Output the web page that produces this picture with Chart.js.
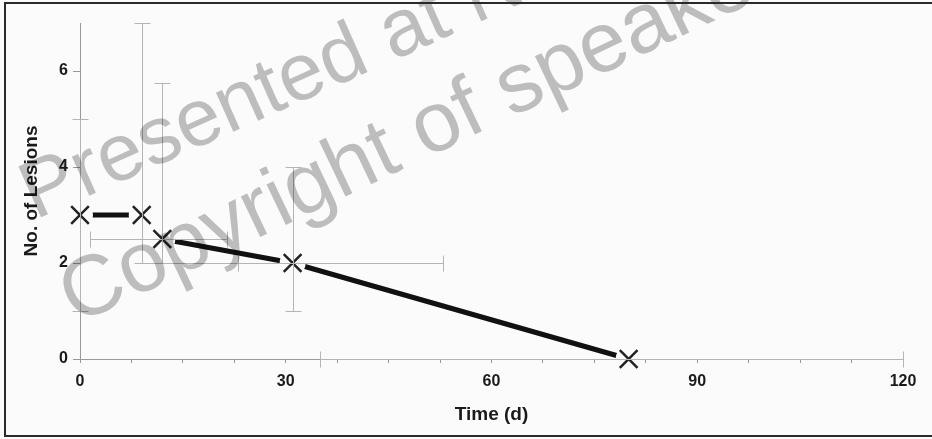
<!DOCTYPE html>
<html>
<head>
<meta charset="utf-8">
<script src="https://cdn.jsdelivr.net/npm/chart.js@4"></script>
<style>
  html, body { margin: 0; padding: 0; background: #fbfbfb; }
  #wrap { width: 932px; height: 439px; }
</style>
</head>
<body>
<div id="wrap"><canvas id="lesions" width="932" height="439"></canvas></div>
<script>
// lesion count over time, with spread on both axes
const days = [0, 9, 12, 31, 80];
const lesions = [3, 3, 2.5, 2, 0];
const lesionLow = [1, 2, 2, 1, null];
const lesionHigh = [5, 7, 5.75, 4, null];
const dayLow = [null, null, 1.5, 23, 35];
const dayHigh = [null, null, 21.5, 53, 120];
// short bracket at 2 lesions joining the two early bars
const bracketDays = [9, 23];
const bracketLevel = 2;

const xTicks = [0, 30, 60, 90, 120];
const xMinorStep = 7.5;
const yTicks = [0, 2, 4, 6];

const earlyIdx = [0, 1];
const lateIdx = [2, 3, 4];
const pts = (idx) => idx.map((i) => ({ x: days[i], y: lesions[i] }));

const ink = "#1a1a1a";
const bg = "#fbfbfb";
const barColor = "#b4b4b4";
const face = "'Liberation Sans', Arial, sans-serif";

const errorBars = {
  id: "errorBars",
  afterDatasetsDraw(chart) {
    const { ctx, scales } = chart;
    const x = scales.x, y = scales.y;
    const cap = 8;
    ctx.save();
    ctx.strokeStyle = barColor;
    ctx.lineWidth = 1;
    ctx.beginPath();
    days.forEach((d, i) => {
      const px = Math.round(x.getPixelForValue(d)) + 0.5;
      const py = Math.round(y.getPixelForValue(lesions[i])) + 0.5;
      if (lesionLow[i] != null) {
        const lo = Math.round(y.getPixelForValue(lesionLow[i])) + 0.5;
        const hi = Math.round(y.getPixelForValue(lesionHigh[i])) + 0.5;
        ctx.moveTo(px, lo); ctx.lineTo(px, hi);
        ctx.moveTo(px - cap, lo); ctx.lineTo(px + cap, lo);
        ctx.moveTo(px - cap, hi); ctx.lineTo(px + cap, hi);
      }
      if (dayLow[i] != null) {
        const lo = Math.round(x.getPixelForValue(dayLow[i])) + 0.5;
        const hi = Math.round(x.getPixelForValue(dayHigh[i])) + 0.5;
        ctx.moveTo(lo, py); ctx.lineTo(hi, py);
        ctx.moveTo(lo, py - cap); ctx.lineTo(lo, py + cap);
        ctx.moveTo(hi, py - cap); ctx.lineTo(hi, py + cap);
      }
    });
    const by = Math.round(y.getPixelForValue(bracketLevel)) + 0.5;
    ctx.moveTo(x.getPixelForValue(bracketDays[0]), by);
    ctx.lineTo(x.getPixelForValue(bracketDays[1]), by);
    ctx.stroke();
    ctx.restore();
  },
};

// grey stamp across the figure, multiplied so dark marks stay dark
const stampText = (ctx, text, x, y, deg, size) => {
  ctx.save();
  ctx.font = size + "px " + face;
  ctx.translate(x, y);
  ctx.rotate((-deg * Math.PI) / 180);
  ctx.fillText(text, 0, 0);
  ctx.restore();
};

const stamp = {
  id: "stamp",
  afterDatasetsDraw(chart) {
    const { ctx } = chart;
    ctx.save();
    ctx.globalCompositeOperation = "multiply";
    ctx.fillStyle = "#bdbdbd";
    ctx.textBaseline = "alphabetic";
    stampText(ctx, "Presented at N", 35, 220, 24, 81);
    stampText(ctx, "Copyright of speaker", 76, 325, 25.5, 85);
    ctx.restore();
  },
};

const frame = {
  id: "frame",
  afterDraw(chart) {
    const { ctx, width, height } = chart;
    ctx.save();
    ctx.strokeStyle = "#2a2a2a";
    ctx.lineWidth = 2;
    ctx.beginPath();
    ctx.moveTo(width, 3);
    ctx.lineTo(5, 3);
    ctx.lineTo(5, height - 3);
    ctx.lineTo(width, height - 3);
    ctx.stroke();
    ctx.restore();
  },
};

const lineSet = (idx) => ({
  data: pts(idx),
  borderColor: "#111",
  borderWidth: 5,
  borderCapStyle: "round",
  pointRadius: 13,
  pointHoverRadius: 13,
  pointBackgroundColor: bg,
  pointBorderWidth: 0,
  clip: false,
  order: 1,
});

new Chart(document.getElementById("lesions"), {
  type: "line",
  data: {
    datasets: [
      {
        data: pts([0, 1, 2, 3, 4]),
        showLine: false,
        pointStyle: "crossRot",
        pointRadius: 12.5,
        pointHoverRadius: 12.5,
        pointBorderWidth: 2.5,
        pointBorderColor: "#222",
        clip: false,
        order: 0,
      },
      lineSet(earlyIdx),
      lineSet(lateIdx),
    ],
  },
  options: {
    responsive: false,
    animation: false,
    events: [],
    layout: { padding: { left: 10, top: 23, right: 29, bottom: 0 } },
    plugins: { legend: { display: false }, tooltip: { enabled: false } },
    scales: {
      x: {
        type: "linear",
        min: 0,
        max: 120,
        afterFit: (s) => { s.height = 80; },
        afterBuildTicks: (s) => {
          const t = [];
          for (let v = 0; v <= 120; v += xMinorStep) t.push({ value: v });
          s.ticks = t;
        },
        grid: { drawOnChartArea: false, tickLength: 4, color: "#999" },
        border: { color: "#999", width: 1 },
        ticks: {
          autoSkip: false,
          maxRotation: 0,
          padding: 9,
          color: ink,
          font: { family: face, size: 16, weight: "bold" },
          callback: (v) => (xTicks.includes(v) ? v : ""),
        },
        title: {
          display: true,
          text: "Time (d)",
          color: ink,
          padding: { top: 0, bottom: 13 },
          font: { family: face, size: 19, weight: "bold" },
        },
      },
      y: {
        min: 0,
        max: 7,
        afterFit: (s) => { s.width = 70; },
        afterBuildTicks: (s) => { s.ticks = yTicks.map((v) => ({ value: v })); },
        grid: { drawOnChartArea: false, tickLength: 7, color: "#999" },
        border: { color: "#999", width: 1 },
        ticks: {
          padding: 5,
          color: ink,
          font: { family: face, size: 16, weight: "bold" },
        },
        title: {
          display: true,
          text: "No. of Lesions",
          color: ink,
          padding: { top: 10, bottom: 0 },
          font: { family: face, size: 19, weight: "bold" },
        },
      },
    },
  },
  plugins: [errorBars, stamp, frame],
});
</script>
</body>
</html>
